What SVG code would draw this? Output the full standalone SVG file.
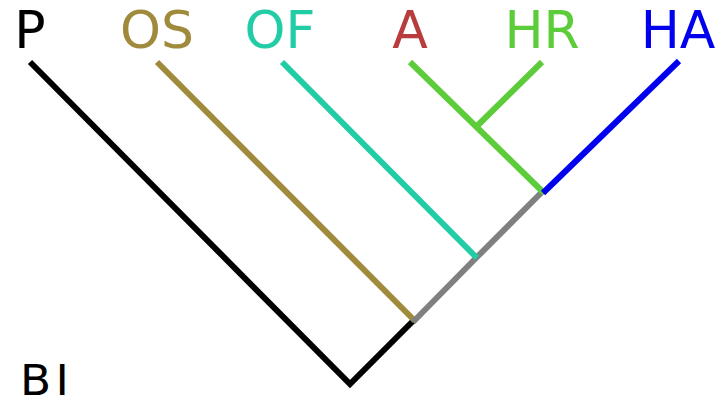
<svg xmlns="http://www.w3.org/2000/svg" width="721" height="401" viewBox="0 0 721 401">
  <style>
    .lbl { font-family: "DejaVu Sans", sans-serif; font-size: 52px; text-anchor: middle; }
    .root { font-size: 42px; text-anchor: start; letter-spacing: 4px; }
    .br { fill: none; stroke-width: 6; stroke-linecap: butt; stroke-linejoin: miter; }
  </style>
  <rect width="721" height="401" fill="#ffffff"/>
  <g id="connectors">
    <polyline class="br" stroke="#000000" points="30,62 350,384 415,319"/>
    <line class="br" stroke="#a08a3c" x1="157" y1="62" x2="415" y2="321"/>
    <polyline class="br" stroke="#808080" points="413,322 477,257 544,190"/>
    <line class="br" stroke="#22cca4" x1="282" y1="62" x2="477" y2="258"/>
    <line class="br" stroke="#5ccc3a" x1="410" y1="62" x2="544" y2="193"/>
    <line class="br" stroke="#5ccc3a" x1="542" y1="62" x2="476" y2="127"/>
    <line class="br" stroke="#0000ee" x1="679" y1="61" x2="543" y2="193"/>
  </g>
  <g id="node-P"><text class="lbl" x="30" y="48" fill="#000000">P</text></g>
  <g id="node-OS"><text class="lbl" x="157" y="48" fill="#a08a3c">OS</text></g>
  <g id="node-OF"><text class="lbl" x="280" y="48" fill="#22cca4">OF</text></g>
  <g id="node-A"><text class="lbl" x="410" y="48" fill="#b83c3c">A</text></g>
  <g id="node-HR"><text class="lbl" x="542" y="48" fill="#5ccc3a">HR</text></g>
  <g id="node-HA"><text class="lbl" x="678" y="48" fill="#0000ee">HA</text></g>
  <g id="node-BI"><text class="lbl root" x="20" y="395" fill="#000000" transform="translate(20 0) scale(1.08 1) translate(-20 0)">BI</text></g>
</svg>
